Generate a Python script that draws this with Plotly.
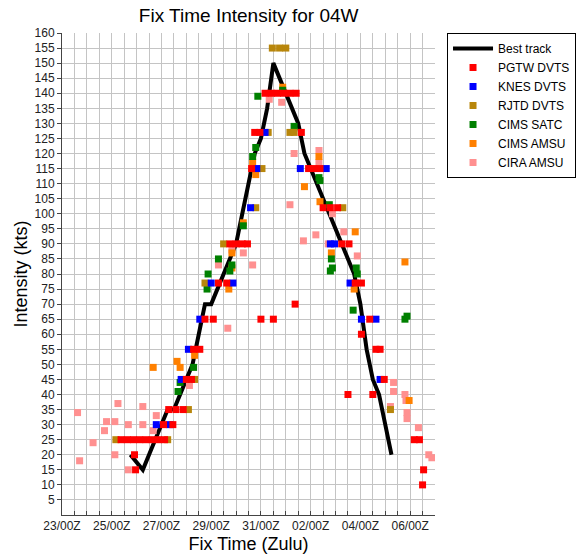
from datetime import datetime
import plotly.graph_objects as go

# ---- data (fix time "DD/HHZ", intensity kt) ----
best_time = ["25/18Z", "26/06Z", "26/12Z", "26/18Z", "27/00Z", "27/06Z", "27/12Z", "27/18Z",
             "28/00Z", "28/06Z", "28/12Z", "28/18Z", "29/00Z", "29/06Z", "29/12Z", "29/18Z",
             "30/00Z", "30/06Z", "30/12Z", "30/18Z", "31/00Z", "31/06Z", "31/12Z", "31/18Z",
             "01/00Z", "01/06Z", "01/12Z", "01/18Z", "02/00Z", "02/06Z", "02/12Z", "02/18Z",
             "03/00Z", "03/06Z", "03/12Z", "03/18Z", "04/00Z", "04/06Z", "04/12Z", "04/18Z",
             "05/00Z", "05/06Z"]
best_kt = [20, 15, 20, 25, 30, 35, 35, 40,
           45, 50, 60, 70, 70, 75, 80, 85,
           90, 100, 110, 120, 125, 135, 150, 145,
           140, 135, 130, 120, 115, 110, 105, 100,
           95, 90, 85, 80, 70, 55, 45, 40,
           30, 20]

pgtw_time = ["25/09Z", "25/15Z", "25/21Z", "26/03Z", "26/09Z", "26/15Z", "26/21Z", "27/03Z",
             "25/22Z", "25/23Z", "27/02Z", "27/11Z", "27/07Z", "27/14Z", "27/21Z",
             "28/00Z", "28/05Z", "28/07Z", "28/13Z", "28/18Z", "29/02Z", "29/07Z", "29/15Z",
             "29/18Z", "30/00Z", "30/06Z", "30/11Z", "31/00Z", "31/12Z", "30/15Z",
             "30/18Z", "30/23Z", "31/04Z", "31/10Z", "31/16Z", "31/22Z", "01/04Z", "01/10Z",
             "01/15Z", "01/22Z", "02/03Z", "02/09Z", "02/12Z", "02/19Z", "03/02Z",
             "03/06Z", "03/13Z", "03/19Z", "04/01Z", "01/09Z", "04/09Z", "04/01Z",
             "04/15Z", "04/19Z", "04/23Z", "03/12Z", "04/12Z", "06/04Z", "06/09Z",
             "06/13Z", "06/12Z"]
pgtw_kt = [25, 25, 25, 25, 25, 25, 25, 25,
           20, 15, 30, 30, 35, 35, 35,
           45, 45, 55, 55, 65, 65, 77, 77,
           90, 90, 90, 90, 65, 65, 115,
           127, 127, 140, 140, 140, 140, 140, 140,
           127, 115, 115, 115, 102, 102, 102,
           90, 90, 77, 77, 70, 65, 60,
           55, 55, 45, 40, 40, 25, 25,
           15, 10]

knes_time = ["26/19Z", "27/08Z", "27/19Z", "28/02Z", "28/13Z", "29/00Z", "29/21Z", "30/14Z",
             "30/20Z", "31/04Z", "01/14Z", "02/15Z", "02/19Z", "02/23Z", "03/14Z", "04/01Z",
             "04/15Z", "04/19Z"]
knes_kt = [30, 30, 45, 55, 65, 77, 77, 102,
           115, 127, 115, 115, 90, 90, 77, 65,
           65, 45]

rjtd_time = ["25/04Z", "27/06Z", "28/02Z", "28/08Z", "28/18Z", "29/12Z", "30/19Z", "31/01Z",
             "31/07Z", "31/11Z", "31/18Z", "01/00Z", "01/04Z", "01/08Z", "03/07Z", "05/05Z"]
rjtd_kt = [25, 25, 35, 45, 77, 90, 102, 115,
           127, 155, 155, 155, 127, 127, 102, 35]

satc_time = ["27/16Z", "27/18Z", "28/07Z", "28/20Z", "28/21Z", "29/07Z", "29/20Z", "29/18Z",
             "30/07Z", "30/16Z", "30/19Z", "30/21Z", "31/21Z", "01/08Z", "02/08Z", "02/09Z",
             "02/18Z", "02/20Z", "02/19Z", "02/21Z", "03/20Z", "03/21Z", "03/17Z", "05/19Z",
             "05/21Z"]
satc_kt = [41, 44, 49, 75, 80, 85, 83, 81,
           96, 119, 122, 139, 141, 129, 112, 111,
           103, 85, 81, 82, 82, 80, 68, 65,
           66]

cimsamsu_time = ["26/16Z", "27/15Z", "27/18Z", "28/08Z", "29/17Z", "29/20Z", "29/20Z", "30/07Z",
                 "30/16Z", "30/19Z", "31/21Z", "02/08Z", "01/18Z", "02/09Z", "02/20Z", "03/19Z",
                 "03/18Z", "05/19Z", "05/23Z"]
cimsamsu_kt = [49, 51, 49, 53, 75, 82, 87, 97,
               117, 113, 142, 119, 109, 104, 87, 94,
               75, 84, 38]

cira_time = ["23/15Z", "23/17Z", "24/06Z", "24/17Z", "24/19Z", "25/03Z", "25/06Z", "25/03Z",
             "25/16Z", "25/16Z", "26/06Z", "26/06Z", "26/19Z", "26/16Z", "28/03Z", "29/16Z",
             "29/07Z", "29/20Z", "30/07Z", "30/16Z", "31/08Z", "31/20Z", "01/08Z", "02/08Z",
             "02/08Z", "01/04Z", "02/21Z", "01/17Z", "02/05Z", "03/08Z", "02/17Z", "03/21Z",
             "05/08Z", "05/08Z", "05/19Z", "05/20Z", "05/05Z", "05/21Z", "05/21Z", "06/08Z",
             "06/18Z", "06/21Z"]
cira_kt = [34, 18, 24, 28, 31, 31, 37, 20,
           30, 15, 36, 30, 33, 28, 43, 62,
           83, 88, 87, 83, 138, 137, 120, 121,
           117, 103, 100, 91, 93, 94, 90, 86,
           44, 41, 40, 38, 36, 34, 32, 29,
           20, 19]

x_tick_fmt = "%d/%HZ"


def to_dt(s):
    day = int(s[:2])
    hour = int(s[3:5])
    month = 3 if day >= 20 else 4
    return datetime(2015, month, day, hour)


def conv(lst):
    return [to_dt(s) for s in lst]


FONT = "Liberation Sans, Arial, Helvetica, sans-serif"

fig = go.Figure()
fig.add_trace(go.Scatter(x=conv(best_time), y=best_kt, mode="lines", name="Best track",
                         line=dict(color="black", width=4), legendrank=1))

series = [
    ("CIRA AMSU", cira_time, cira_kt, "#ff9090", 7),
    ("CIMS AMSU", cimsamsu_time, cimsamsu_kt, "#ff8000", 6),
    ("CIMS SATC", satc_time, satc_kt, "#008000", 5),
    ("RJTD DVTS", rjtd_time, rjtd_kt, "#b8860b", 4),
    ("KNES DVTS", knes_time, knes_kt, "#0000ff", 3),
    ("PGTW DVTS", pgtw_time, pgtw_kt, "#ff0000", 2),
]
for name, t, v, col, rank in series:
    fig.add_trace(go.Scatter(x=conv(t), y=v, mode="markers", name=name, legendrank=rank,
                             marker=dict(symbol="square", size=7, color=col,
                                         line=dict(width=0))))

fig.update_layout(
    width=581, height=558,
    margin=dict(l=62, r=146, t=33, b=43, autoexpand=False),
    paper_bgcolor="white", plot_bgcolor="white",
    font=dict(family=FONT, size=12, color="black"),
    title=dict(text="Fix Time Intensity for 04W", x=0.428, xanchor="center",
               y=0.973, yanchor="middle", font=dict(size=19, color="black")),
    legend=dict(xref="container", yref="container", x=0.7694, y=0.9409,
                xanchor="left", yanchor="top", bgcolor="white",
                bordercolor="black", borderwidth=1, font=dict(size=12, color="black"),
                tracegroupgap=0, itemwidth=40),
    showlegend=True,
)

fig.update_xaxes(
    type="date",
    automargin=False,
    range=[datetime(2015, 3, 23), datetime(2015, 4, 7)],
    tick0=datetime(2015, 3, 23), dtick=2 * 86400000,
    tickformat=x_tick_fmt,
    ticks="inside", ticklen=4, tickcolor="#444",
    showgrid=True, gridcolor="#c4c4c4", gridwidth=1,
    minor=dict(dtick=43200000, showgrid=True, gridcolor="#c4c4c4", gridwidth=1,
               ticks="inside", ticklen=4, tickcolor="#444"),
    showline=True, linecolor="#444", linewidth=1,
    mirror=False, zeroline=False,
    tickfont=dict(size=12, color="#222"),
    title=dict(text="Fix Time (Zulu)", font=dict(size=18, color="black"), standoff=4),
)

fig.update_yaxes(
    automargin=False,
    range=[0, 160],
    tickvals=list(range(5, 165, 5)),
    ticks="outside", ticklen=4, tickcolor="#444",
    showgrid=True, gridcolor="#c4c4c4", gridwidth=1,
    showline=True, linecolor="#444", linewidth=1,
    zeroline=False,
    tickfont=dict(size=12, color="#222"),
    title=dict(text="Intensity (kts)", font=dict(size=18, color="black"), standoff=2),
)

fig.write_html("out.html", config={"displayModeBar": False},
               post_script="document.body.style.margin='0';document.body.style.padding='0';")
